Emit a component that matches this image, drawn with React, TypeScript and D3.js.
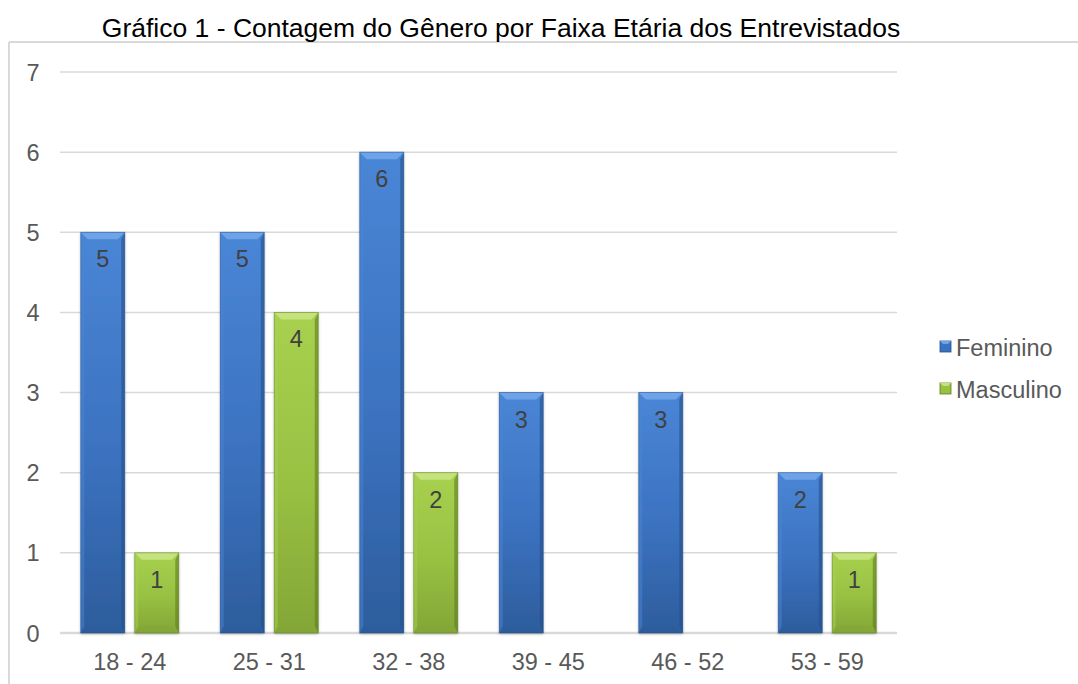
import React from 'react';
import * as d3 from 'd3';

const categories = ['18 - 24', '25 - 31', '32 - 38', '39 - 45', '46 - 52', '53 - 59'];
const seriesNames = ['Feminino', 'Masculino'];
const feminino = [5, 5, 6, 3, 3, 2];
const masculino = [1, 4, 2, 0, 0, 1];
const yTicks = [0, 1, 2, 3, 4, 5, 6, 7];
const title = 'Gráfico 1 - Contagem do Gênero por Faixa Etária dos Entrevistados';

const W = 1078, H = 684;
const plot = { left: 60, right: 897, top: 72, bottom: 633 };

const palette = [
  { light: '#4a86d6', mid: '#3b72c0', dark: '#2d5d9c', bevel: '#6ea3e8', edge: '#24508c' },
  { light: '#a8d150', mid: '#98c042', dark: '#83a636', bevel: '#c4e37c', edge: '#5e7d1e' },
];

export default function App() {
  const x0 = d3.scaleBand().domain(categories).range([plot.left, plot.right]);
  const groupW = 98;
  const x1 = d3.scaleBand().domain(seriesNames)
    .range([(x0.bandwidth() - groupW) / 2, (x0.bandwidth() + groupW) / 2])
    .paddingInner(10 / 54).paddingOuter(0);
  const y = d3.scaleLinear().domain([0, 7]).range([plot.bottom, plot.top]);
  const values = [feminino, masculino];
  const bw = x1.bandwidth();
  const bev = 7;

  const bars: any[] = [];
  categories.forEach((c, i) => {
    seriesNames.forEach((s, j) => {
      const v = values[j][i];
      if (!v) return;
      const bx = x0(c)! + x1(s)!;
      const by = y(v);
      const bh = y(0) - by;
      const p = palette[j];
      bars.push(
        <g key={c + s}>
          <g filter="url(#shadow)">
            <rect x={bx} y={by} width={bw} height={bh} fill={`url(#grad${j})`} />
          </g>
          <polygon points={`${bx},${by} ${bx + bw},${by} ${bx + bw - bev},${by + bev} ${bx + bev},${by + bev}`} fill={p.bevel} />
          <polygon points={`${bx},${by} ${bx + bev * 0.5},${by + bev} ${bx + bev * 0.5},${by + bh - bev} ${bx},${by + bh}`} fill={p.light} opacity={0.5} />
          <polygon points={`${bx + bw},${by} ${bx + bw - bev * 0.5},${by + bev} ${bx + bw - bev * 0.5},${by + bh - bev} ${bx + bw},${by + bh}`} fill={p.edge} opacity={0.6} />
          <polygon points={`${bx},${by + bh} ${bx + bw},${by + bh} ${bx + bw - bev},${by + bh - bev} ${bx + bev},${by + bh - bev}`} fill={p.dark} opacity={0.8} />
          <rect x={bx} y={by} width={bw} height={bh} fill="none" stroke={p.edge} strokeWidth={0.8} opacity={0.6} />
          <text x={bx + bw / 2} y={by + 35} textAnchor="middle" fontSize={23.5} fill="#404040">{v}</text>
        </g>
      );
    });
  });

  return (
    <div style={{ position: 'fixed', left: 0, top: 0 }}>
      <svg width={W} height={H} style={{ display: 'block', fontFamily: 'Arial, "Liberation Sans", sans-serif' }}>
        <defs>
          {palette.map((p, j) => (
            <linearGradient key={j} id={`grad${j}`} x1="0" y1="0" x2="0" y2="1">
              <stop offset="0%" stopColor={p.light} />
              <stop offset="55%" stopColor={p.mid} />
              <stop offset="100%" stopColor={p.dark} />
            </linearGradient>
          ))}
          <filter id="shadow" x="-20%" y="-5%" width="140%" height="110%">
            <feDropShadow dx="0" dy="1" stdDeviation="1.5" floodColor="#000" floodOpacity="0.3" />
          </filter>
        </defs>
        <rect width={W} height={H} fill="#fff" />
        <line x1={9} x2={W} y1={42} y2={42} stroke="#d9d9d9" strokeWidth={2} />
        <line x1={9} x2={9} y1={42} y2={H} stroke="#d9d9d9" strokeWidth={2} />
        <text x={501} y={37} textAnchor="middle" fontSize={26.5} fill="#000">{title}</text>
        {yTicks.map(t => (
          <g key={t}>
            <line x1={plot.left} x2={plot.right} y1={y(t)} y2={y(t)} stroke="#d9d9d9" strokeWidth={t === 0 ? 2.5 : 1.5} />
            <text x={33} y={y(t) + 8.5} textAnchor="middle" fontSize={23.5} fill="#595959">{t}</text>
          </g>
        ))}
        {bars}
        {categories.map(c => (
          <text key={c} x={x0(c)! + x0.bandwidth() / 2} y={670} textAnchor="middle" fontSize={23.5} fill="#595959">{c}</text>
        ))}
        {seriesNames.map((s, j) => (
          <g key={s} transform={`translate(940, ${347 + j * 42})`}>
            <rect x={0} y={-6} width={11} height={11} fill={palette[j].mid} stroke={palette[j].edge} strokeWidth={0.8} />
            <polygon points="0,-6 11,-6 8,-3 3,-3" fill={palette[j].bevel} />
            <text x={16} y={8.5} fontSize={23.5} fill="#595959">{s}</text>
          </g>
        ))}
      </svg>
    </div>
  );
}
